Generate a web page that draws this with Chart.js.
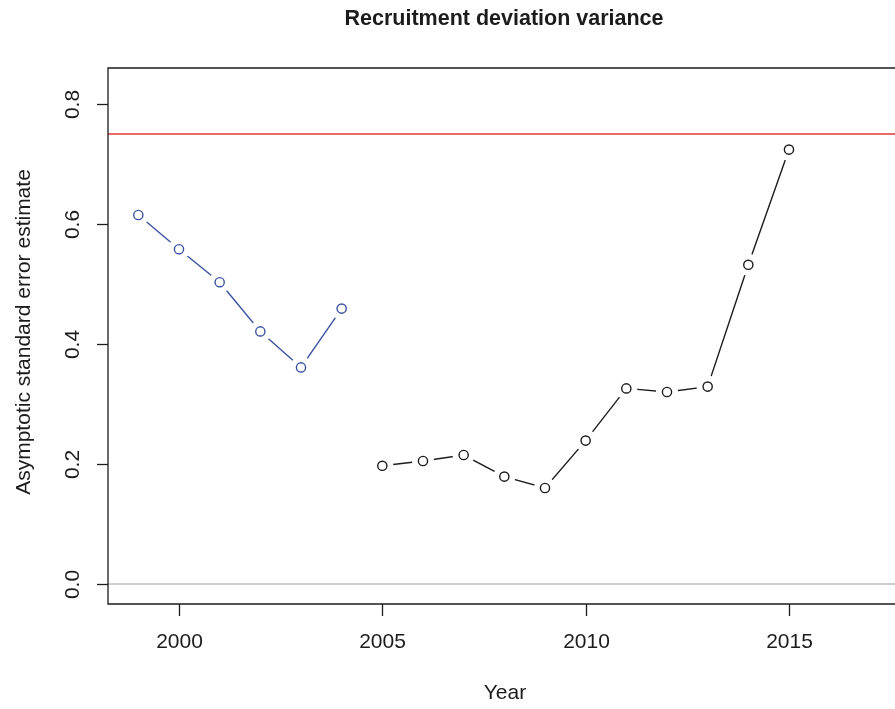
<!DOCTYPE html>
<html>
<head>
<meta charset="utf-8">
<script src="https://cdn.jsdelivr.net/npm/chart.js@4"></script>
<style>
  body { margin: 0; background: #fff; overflow: hidden; }
  #wrap { width: 895px; height: 709px; }
</style>
</head>
<body>
<div id="wrap"><canvas id="rdv" width="895" height="709"></canvas></div>
<script>
  // data
  var earlyYears = [1999, 2000, 2001, 2002, 2003, 2004];
  var earlyValues = [0.615, 0.558, 0.503, 0.421, 0.361, 0.459];
  var mainYears = [2005, 2006, 2007, 2008, 2009, 2010, 2011, 2012, 2013, 2014, 2015];
  var mainValues = [0.197, 0.205, 0.215, 0.179, 0.160, 0.239, 0.326, 0.320, 0.329, 0.532, 0.724];
  var refLevel = 0.75;
  var zeroLevel = 0;
  var xTicks = [2000, 2005, 2010, 2015];
  var yTicks = [0, 0.2, 0.4, 0.6, 0.8];
  var yTickLabels = ['0.0', '0.2', '0.4', '0.6', '0.8'];

  var xMin = 1998.254, xMax = 2017.607;
  var yMin = -0.0333, yMax = 0.86;

  function pts(xs, ys) {
    return xs.map(function (x, i) { return { x: x, y: ys[i] }; });
  }
  function flat(v) {
    return [{ x: xMin, y: v }, { x: xMax, y: v }];
  }

  var blue = '#3a52a3';
  var ink = '#1c1c1c';
  var font = '"Liberation Sans", Arial, sans-serif';

  // axes, ticks and titles in R base-graphics style
  var rAxes = {
    id: 'rAxes',
    afterDraw: function (chart) {
      var c = chart.ctx, a = chart.chartArea;
      var xs = chart.scales.x, ys = chart.scales.y;
      c.save();
      c.strokeStyle = ink;
      c.lineWidth = 1.3;
      c.beginPath();
      c.moveTo(chart.width, a.top); c.lineTo(a.left, a.top);
      c.lineTo(a.left, a.bottom); c.lineTo(chart.width, a.bottom);
      c.stroke();

      c.fillStyle = ink;
      c.font = '21px ' + font;
      c.textAlign = 'center';
      c.textBaseline = 'middle';
      xTicks.forEach(function (t) {
        var px = Math.round(xs.getPixelForValue(t)) + 0.5;
        c.beginPath(); c.moveTo(px, a.bottom); c.lineTo(px, a.bottom + 12); c.stroke();
        c.fillText(String(t), px, 642);
      });
      yTicks.forEach(function (t, i) {
        var py = Math.round(ys.getPixelForValue(t)) + 0.5;
        c.beginPath(); c.moveTo(a.left, py); c.lineTo(a.left - 11, py); c.stroke();
        c.save();
        c.translate(73, py);
        c.rotate(-Math.PI / 2);
        c.fillText(yTickLabels[i], 0, 0);
        c.restore();
      });

      c.fillText('Year', 505, 693);
      c.save();
      c.translate(24, 332);
      c.rotate(-Math.PI / 2);
      c.fillText('Asymptotic standard error estimate', 0, 0);
      c.restore();

      c.font = 'bold 21.5px ' + font;
      c.fillText('Recruitment deviation variance', 504, 19);
      c.restore();
    }
  };

  var ctx = document.getElementById('rdv').getContext('2d');
  var chart = new Chart(ctx, {
    type: 'scatter',
    data: {
      datasets: [
        // open circles
        { data: pts(earlyYears, earlyValues), showLine: false, pointRadius: 4.6, pointBorderWidth: 1.4,
          pointBorderColor: blue, pointBackgroundColor: 'rgba(0,0,0,0)', order: 1 },
        { data: pts(mainYears, mainValues), showLine: false, pointRadius: 4.6, pointBorderWidth: 1.4,
          pointBorderColor: ink, pointBackgroundColor: 'rgba(0,0,0,0)', order: 1 },
        // white gaps around points (type = "b")
        { data: pts(earlyYears, earlyValues), showLine: false, pointRadius: 11, pointBorderWidth: 0,
          pointBackgroundColor: '#fff', order: 2 },
        { data: pts(mainYears, mainValues), showLine: false, pointRadius: 11, pointBorderWidth: 0,
          pointBackgroundColor: '#fff', order: 2 },
        // connecting lines
        { data: pts(earlyYears, earlyValues), showLine: true, borderColor: blue, borderWidth: 1.4,
          pointRadius: 0, order: 3 },
        { data: pts(mainYears, mainValues), showLine: true, borderColor: ink, borderWidth: 1.4,
          pointRadius: 0, order: 3 },
        // reference lines
        { data: flat(refLevel), showLine: true, borderColor: '#e0393b', borderWidth: 1.4, pointRadius: 0, order: 4 },
        { data: flat(zeroLevel), showLine: true, borderColor: '#bdbdbd', borderWidth: 1.4, pointRadius: 0, order: 4 }
      ]
    },
    options: {
      responsive: false,
      animation: false,
      layout: { autoPadding: false, padding: { left: 108, top: 68, right: 0, bottom: 105 } },
      plugins: { legend: { display: false }, tooltip: { enabled: false } },
      scales: {
        x: { type: 'linear', min: xMin, max: xMax, display: false },
        y: { type: 'linear', min: yMin, max: yMax, display: false }
      }
    },
    plugins: [rAxes]
  });
</script>
</body>
</html>
